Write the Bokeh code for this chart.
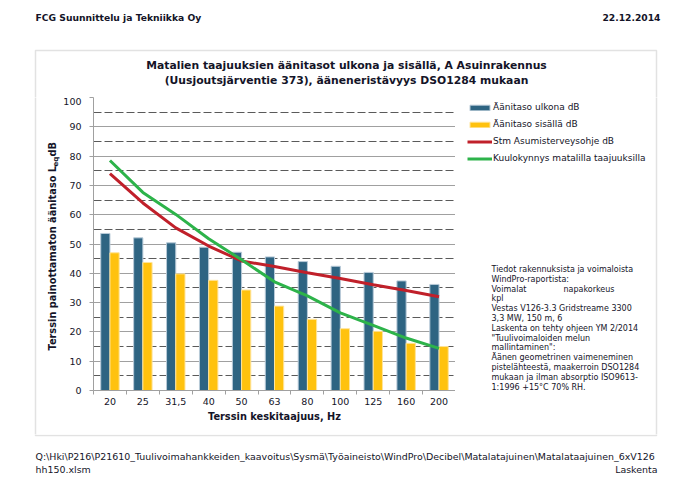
import math
from bokeh.plotting import figure
from bokeh.layouts import column, row
from bokeh.models import (Range1d, LinearAxis, FixedTicker, Label,
                          BoxAnnotation, Legend, LegendItem, ColumnDataSource)
from bokeh.transform import dodge
from bokeh.embed import file_html
from bokeh.resources import INLINE

# ---------------- data ----------------
freqs = ["20", "25", "31,5", "40", "50", "63", "80", "100", "125", "160", "200"]
outdoor = [53.6, 52.1, 50.4, 48.9, 47.2, 45.6, 44.0, 42.4, 40.3, 37.4, 36.2]
indoor = [47.0, 43.7, 39.8, 37.6, 34.3, 28.8, 24.3, 21.1, 20.2, 16.1, 15.0]
stm = [74.0, 64.0, 55.5, 49.3, 44.2, 42.3, 40.2, 38.2, 36.1, 34.1, 32.0]
hearing = [78.5, 67.6, 60.1, 51.8, 44.6, 37.1, 32.3, 26.5, 22.2, 17.9, 14.4]
y_ticks = list(range(0, 101, 10))
y_minor = list(range(5, 100, 10))

series_names = ["Äänitaso ulkona dB", "Äänitaso sisällä dB",
                "Stm Asumisterveysohje dB", "Kuulokynnys matalilla taajuuksilla"]

header_left = "FCG Suunnittelu ja Tekniikka Oy"
header_right = "22.12.2014"
title_lines = ["Matalien taajuuksien äänitasot ulkona ja sisällä, A Asuinrakennus",
               "(Uusjoutsjärventie 373), ääneneristävyys DSO1284 mukaan"]
x_label = "Terssin keskitaajuus, Hz"
y_label_parts = ["Terssin painottamaton äänitaso L", "eq", " dB"]
info_lines = ["Tiedot rakennuksista ja voimaloista",
              "WindPro-raportista:",
              "Voimalat",
              "kpl",
              "Vestas V126-3.3 Gridstreame 3300",
              "3,3 MW, 150 m, 6",
              "Laskenta on tehty ohjeen YM 2/2014",
              "\"Tuulivoimaloiden melun",
              "mallintaminen\":",
              "Äänen geometrinen vaimeneminen",
              "pistelähteestä, maakerroin DSO1284",
              "mukaan ja ilman absorptio ISO9613-",
              "1:1996  +15°C 70% RH."]
info_extra = "napakorkeus"
footer_lines = ["Q:\\Hki\\P216\\P21610_Tuulivoimahankkeiden_kaavoitus\\Sysmä\\Työaineisto\\WindPro\\Decibel\\Matalatajuinen\\Matalataajuinen_6xV126",
                "hh150.xlsm"]
footer_right = "Laskenta"

# ---------------- layout constants (canvas pixels) ----------------
W, H = 692, 490
FL, FR, FT, FB = 92, 455, 97, 390      # chart frame
LS = 60                                # width of left strip
BT = 434                               # top of bottom strip
BOX = dict(left=35, right=656, top=50, bottom=435)
FONT = "DejaVu Sans"
TXT = "#141428"
GRAY = "#A0A0A0"
n = len(freqs)


def strip(x0, x1, y0, y1):
    """A plain figure whose frame is the whole area, in canvas pixel coords."""
    f = figure(width=x1 - x0, height=y1 - y0, x_range=Range1d(x0, x1),
               y_range=Range1d(y1, y0), x_axis_type=None, y_axis_type=None,
               output_backend="svg", toolbar_location=None,
               min_border=0, min_border_left=0, min_border_right=0,
               min_border_top=0, min_border_bottom=0)
    f.frame_align = False
    f.title.visible = False
    f.outline_line_color = None
    f.background_fill_color = "white"
    f.border_fill_color = "white"
    f.add_layout(BoxAnnotation(fill_alpha=0, line_color=GRAY, line_width=1.5,
                               level="underlay", **BOX))
    return f


def lab(f, x, y, text, size, bold=False, align="left", angle=0.0):
    f.add_layout(Label(x=x, y=y, text=text, text_font=FONT, text_font_size=size,
                       text_font_style="bold" if bold else "normal",
                       text_align=align, text_baseline="middle", angle=angle,
                       text_color=TXT))


top = strip(0, W, 0, FT)
left = strip(0, LS, FT, BT)
right = strip(FR, W, FT, BT)
bottom = strip(0, W, BT, H)

# ---------------- main chart ----------------
p = figure(width=FR - LS, height=BT - FT, x_range=Range1d(0, n), y_range=Range1d(0, 100),
           x_axis_type=None, output_backend="svg", toolbar_location=None,
           min_border_left=FL - LS, min_border_right=0,
           min_border_top=0, min_border_bottom=BT - FB)
p.frame_align = False
p.title.visible = False
p.outline_line_color = None
p.background_fill_color = "white"
p.border_fill_color = "white"

# category slot centres (category i occupies [i, i+1] on the x scale)
xpos = [i + 0.5 for i in range(n)]
src = ColumnDataSource(dict(x=xpos, freq=freqs, outdoor=outdoor, indoor=indoor,
                            stm=stm, hearing=hearing))

ya = p.yaxis[0]
ya.ticker = FixedTicker(ticks=y_ticks, minor_ticks=y_minor)
ya.axis_line_color = GRAY
ya.major_tick_line_color = GRAY
ya.major_tick_out = 4
ya.major_tick_in = 0
ya.minor_tick_line_color = None
ya.minor_tick_out = 0
ya.minor_tick_in = 0
ya.major_label_text_font = FONT
ya.major_label_text_font_size = "9.5px"
ya.major_label_text_color = TXT
ya.major_label_standoff = 8
p.ygrid.grid_line_color = GRAY
p.ygrid.grid_line_width = 1
p.ygrid.minor_grid_line_color = "#5A5A5A"
p.ygrid.minor_grid_line_dash = "8 3"
p.ygrid.minor_grid_line_width = 1

xa = LinearAxis(ticker=FixedTicker(ticks=xpos, minor_ticks=list(range(n + 1))),
                major_label_overrides={x: f for x, f in zip(xpos, freqs)})
xa.axis_line_color = GRAY
xa.major_tick_line_color = None
xa.major_tick_out = 4
xa.major_tick_in = 0
xa.minor_tick_line_color = GRAY
xa.minor_tick_out = 4
xa.minor_tick_in = 0
xa.major_label_text_font = FONT
xa.major_label_text_font_size = "9.5px"
xa.major_label_text_color = TXT
xa.major_label_standoff = 3
xa.axis_label = x_label
xa.axis_label_text_font = FONT
xa.axis_label_text_font_style = "bold"
xa.axis_label_text_font_size = "9.8px"
xa.axis_label_text_color = TXT
xa.axis_label_standoff = 3
p.add_layout(xa, "below")

BLUE, BLUE_EDGE = "#2E6482", "#B8CAD8"
YEL, YEL_EDGE = "#FFC20E", "#FFE49A"
RED, GREEN = "#C0202A", "#2DB34A"

p.vbar(x=dodge("x", -0.14), top="outdoor", width=0.28, source=src,
       fill_color=BLUE, line_color=BLUE_EDGE, line_width=1)
p.vbar(x=dodge("x", 0.14), top="indoor", width=0.28, source=src,
       fill_color=YEL, line_color=YEL_EDGE, line_width=1)
p.line(x="x", y="stm", source=src, line_color=RED, line_width=3)
p.line(x="x", y="hearing", source=src, line_color=GREEN, line_width=3)

# ---------------- legend (right strip, proxy glyphs with the chart's styles) ----------------
nan = float("nan")
proxy = ColumnDataSource(dict(x=[nan], y=[nan]))   # NaN: nothing drawn, only legend keys
k_out = right.vbar(x="x", top="y", width=1, source=proxy, fill_color=BLUE,
                   line_color=BLUE_EDGE, line_width=1)
k_in = right.vbar(x="x", top="y", width=1, source=proxy, fill_color=YEL,
                  line_color=YEL_EDGE, line_width=1)
k_stm = right.line(x="x", y="y", source=proxy, line_color=RED, line_width=3)
k_hear = right.line(x="x", y="y", source=proxy, line_color=GREEN, line_width=3)
legend = Legend(items=[LegendItem(label=series_names[0], renderers=[k_out]),
                       LegendItem(label=series_names[1], renderers=[k_in]),
                       LegendItem(label=series_names[2], renderers=[k_stm]),
                       LegendItem(label=series_names[3], renderers=[k_hear])],
                location=(12, 270), orientation="vertical", padding=0, margin=0,
                spacing=5, label_height=12, glyph_height=7, glyph_width=25,
                label_standoff=1, label_text_font=FONT, label_text_font_size="9px",
                label_text_color=TXT, background_fill_alpha=0, border_line_color=None)
right.add_layout(legend, "center")

# info text
for i, t in enumerate(info_lines):
    lab(right, 491, 269 + 9.8 * i, t, "8px")
lab(right, 563, 269 + 9.8 * 2, info_extra, "8px")

# ---------------- header / title ----------------
lab(top, 35, 17, header_left, "9.2px", bold=True)
lab(top, 660, 17, header_right, "9.2px", bold=True, align="right")
lab(top, 346, 65, title_lines[0], "10.8px", bold=True, align="center")
lab(top, 346, 80, title_lines[1], "10.8px", bold=True, align="center")

# ---------------- rotated y axis label with subscript ----------------
lab(left, 52, 350, y_label_parts[0], "9.8px", bold=True, angle=math.pi / 2)
lab(left, 55, 166, y_label_parts[1], "7px", bold=True, angle=math.pi / 2)
lab(left, 52, 156, y_label_parts[2], "9.8px", bold=True, angle=math.pi / 2)

# ---------------- footer ----------------
lab(bottom, 35, 456, footer_lines[0], "9.45px")
lab(bottom, 35, 469, footer_lines[1], "9.45px")
lab(bottom, 657, 469, footer_right, "9.45px", align="right")

layout = column(top, row(left, p, right, spacing=0), bottom, spacing=0)
open("out.html", "w").write(file_html(layout, INLINE))
